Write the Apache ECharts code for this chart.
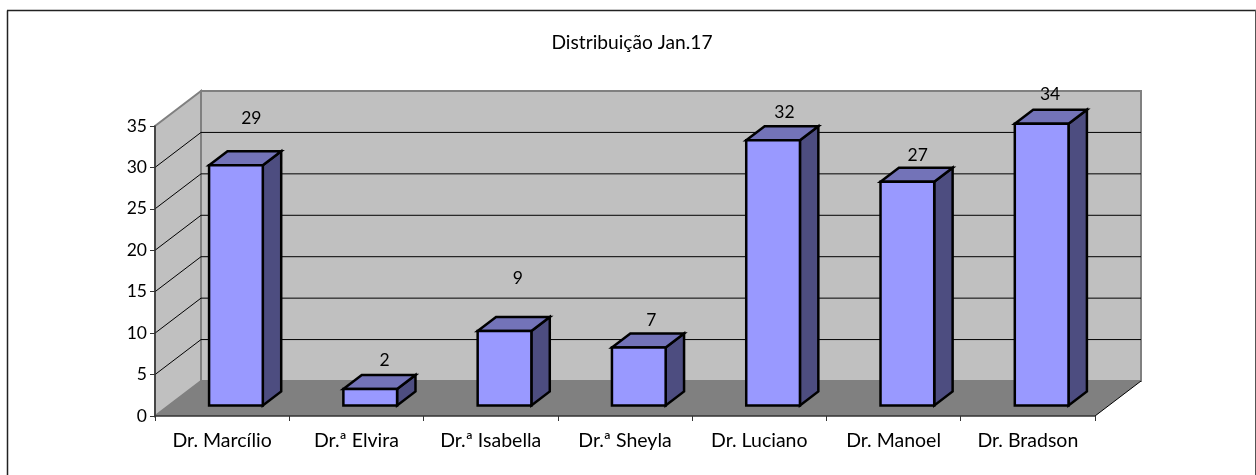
<!DOCTYPE html>
<html>
<head>
<meta charset="utf-8">
<style>
  html, body { margin: 0; padding: 0; background: #fff; overflow: hidden; }
  #chart { width: 1256px; height: 475px; }
</style>
<script src="https://cdn.jsdelivr.net/npm/echarts@6/dist/echarts.min.js"></script>
</head>
<body>
<div id="chart"></div>
<script>
const chartTitle = 'Distribuição Jan.17'
const categories = ['Dr. Marcílio', 'Dr.ª Elvira', 'Dr.ª Isabella', 'Dr.ª Sheyla', 'Dr. Luciano', 'Dr. Manoel', 'Dr. Bradson']
const values = [29, 2, 9, 7, 32, 27, 34]
const yMax = 35
const yStep = 5

// 3d look: how far the floor runs back, in pixels
const depthX = 46
const depthY = -35
// bar sits between these fractions of the floor depth
const barFront = 0.3
const barBack = 0.7
const barWidthRatio = 0.4
// value labels were placed by hand in the original, these follow it
const labelLift = [32.5, 14.5, 39, 13, 13.5, 12.5, 15]
const labelShift = [-3, -4, -5, -6, -7, -8, -10]

const font = 'Lato'
const chart = echarts.init(document.getElementById('chart'), null, { renderer: 'canvas' })

function poly(points, fill, stroke, lineWidth) {
  return {
    type: 'polygon',
    shape: { points: points },
    style: { fill: fill, stroke: stroke, lineWidth: lineWidth, lineJoin: 'miter' }
  }
}
function line(a, b, color, width) {
  return {
    type: 'line',
    shape: { x1: a[0], y1: a[1], x2: b[0], y2: b[1] },
    style: { stroke: color, lineWidth: width }
  }
}

// back wall, side wall, floor and their grid lines
function renderWalls(params, api) {
  const first = api.coord([0, 0])
  const bandW = api.size([1, 0])[0]
  const x0 = first[0] - bandW / 2
  const x1 = x0 + bandW * categories.length
  const y0 = first[1]
  const yTop = api.coord([0, yMax])[1]
  const dx = depthX
  const dy = depthY
  const children = [
    poly([[x0 + dx, yTop + dy], [x1 + dx, yTop + dy], [x1 + dx, y0 + dy], [x0 + dx, y0 + dy]], '#c0c0c0', '#808080', 2),
    poly([[x0, yTop], [x0 + dx, yTop + dy], [x0 + dx, y0 + dy], [x0, y0]], '#c0c0c0', '#808080', 2)
  ]
  for (let v = yStep; v < yMax; v += yStep) {
    const y = api.coord([0, v])[1]
    children.push(line([x0, y], [x0 + dx, y + dy], '#000', 1))
    children.push(line([x0 + dx, y + dy], [x1 + dx, y + dy], '#000', 1))
  }
  children.push(poly([[x0, y0], [x1, y0], [x1 + dx, y0 + dy], [x0 + dx, y0 + dy]], '#808080', 'none', 0))
  children.push(line([x1, y0], [x1 + dx, y0 + dy], '#000', 1))
  return { type: 'group', children: children }
}

function renderBar(params, api) {
  const i = api.value(0)
  const v = api.value(1)
  const base = api.coord([i, 0])
  const top = api.coord([i, v])
  const bandW = api.size([1, 0])[0]
  const w = bandW * barWidthRatio
  const fx = base[0] - w / 2 + depthX * barFront
  const fy = depthY * barFront
  const bx = depthX * (barBack - barFront)
  const by = depthY * (barBack - barFront)
  const l = fx
  const r = fx + w
  const b = base[1] + fy
  const t = top[1] + fy
  return {
    type: 'group',
    children: [
      poly([[r, t], [r + bx, t + by], [r + bx, b + by], [r, b]], '#4d4d80', '#000', 2.5),
      poly([[l, t], [l + bx, t + by], [r + bx, t + by], [r, t]], '#7373b8', '#000', 2.5),
      poly([[l, t], [r, t], [r, b], [l, b]], '#9999ff', '#000', 2.5),
      {
        type: 'text',
        style: {
          text: String(v),
          x: (l + r) / 2 + bx + labelShift[i],
          y: t + by - labelLift[i],
          align: 'center',
          verticalAlign: 'middle',
          fontFamily: font,
          fontSize: 17.5,
          fill: '#000'
        }
      }
    ]
  }
}

const option = {
  backgroundColor: '#fff',
  animation: false,
  title: {
    text: chartTitle,
    left: 627,
    textAlign: 'center',
    top: 28,
    textStyle: { fontFamily: font, fontSize: 19.2, fontWeight: 'normal', color: '#000' }
  },
  grid: { left: 155, right: 161, top: 126, bottom: 59 },
  xAxis: {
    type: 'category',
    data: categories,
    axisLine: { show: true, onZero: false, lineStyle: { color: '#333', width: 1.5 } },
    axisTick: { show: true, alignWithLabel: false, length: 5, lineStyle: { color: '#333' } },
    axisLabel: { fontFamily: font, fontSize: 19.5, color: '#000', margin: 15, interval: 0 },
    splitLine: { show: false },
    z: 5
  },
  yAxis: {
    type: 'value',
    min: 0,
    max: yMax,
    interval: yStep,
    axisLine: { show: true, lineStyle: { color: '#333', width: 1.5 } },
    axisTick: { show: true, length: 5, lineStyle: { color: '#333' } },
    axisLabel: { fontFamily: font, fontSize: 17.5, color: '#000', margin: 8 },
    splitLine: { show: false },
    z: 5
  },
  series: [
    {
      type: 'custom',
      renderItem: renderWalls,
      data: [[0, 0]],
      silent: true,
      clip: false,
      z: 1
    },
    {
      type: 'custom',
      renderItem: renderBar,
      data: values.map((v, i) => [i, v]),
      encode: { x: 0, y: 1 },
      clip: false,
      z: 10
    }
  ],
  // frame of the chart area, its bottom edge falls outside the picture
  graphic: [{
    type: 'group',
    silent: true,
    children: [
      { type: 'line', shape: { x1: 7.5, y1: 10.5, x2: 7.5, y2: 475 }, style: { stroke: '#222', lineWidth: 1.5 } },
      { type: 'line', shape: { x1: 7, y1: 10.5, x2: 1256, y2: 10.5 }, style: { stroke: '#222', lineWidth: 1.5 } },
      { type: 'line', shape: { x1: 1255.5, y1: 10, x2: 1255.5, y2: 475 }, style: { stroke: '#555', lineWidth: 1 } }
    ]
  }]
}
chart.setOption(option)
</script>
</body>
</html>
